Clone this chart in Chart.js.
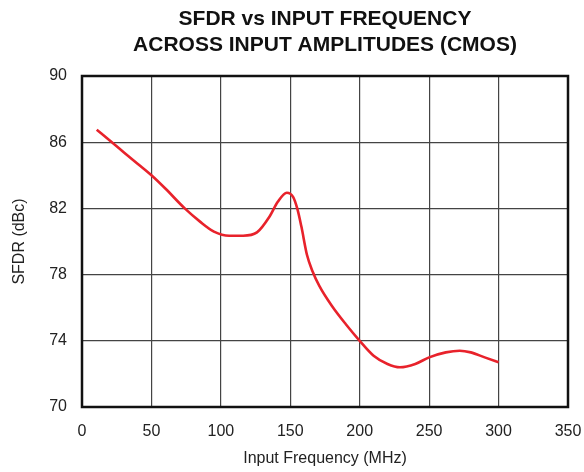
<!DOCTYPE html>
<html>
<head>
<meta charset="utf-8">
<script src="https://cdn.jsdelivr.net/npm/chart.js@4"></script>
<style>
  html, body { margin: 0; padding: 0; background: #fff; }
  #wrap { width: 584px; height: 472px; }
</style>
</head>
<body>
<div id="wrap"><canvas id="sfdrChart" width="584" height="472"></canvas></div>
<script>
'use strict';
// =============== data ===============
const freqMHz = [10.6, 20, 30, 40, 50, 60, 74, 85, 95, 106, 116, 126, 135, 141, 147.5, 152, 155, 158, 162, 166, 171, 180, 190, 200, 210, 220, 229, 240, 250, 262, 272, 280, 290, 300];
const sfdrDbc = [86.75, 86.1, 85.4, 84.7, 84.0, 83.2, 82.0, 81.2, 80.6, 80.35, 80.35, 80.55, 81.5, 82.4, 82.95, 82.7, 82.0, 80.9, 79.2, 78.2, 77.3, 76.1, 75.0, 74.0, 73.1, 72.6, 72.4, 72.6, 73.0, 73.3, 73.4, 73.3, 73.0, 72.7];
const xTicks = [0, 50, 100, 150, 200, 250, 300, 350];
const yTicks = [70, 74, 78, 82, 86, 90];
const titleLines = ['SFDR vs INPUT FREQUENCY', 'ACROSS INPUT AMPLITUDES (CMOS)'];

const points = freqMHz.map((f, i) => ({ x: f, y: sfdrDbc[i] }));

// =============== frame around plot ===============
const frame = {
    id: 'frame',
    afterDatasetsDraw(chart) {
        const a = chart.chartArea;
        const ctx = chart.ctx;
        ctx.save();
        ctx.strokeStyle = '#111';
        ctx.lineWidth = 2.5;
        ctx.strokeRect(a.left, a.top, a.right - a.left, a.bottom - a.top);
        ctx.restore();
    }
};

const font = "'Liberation Sans', Arial, Helvetica, sans-serif";

let ctx = document.getElementById('sfdrChart').getContext('2d');

let sfdrChart = new Chart(ctx, {
    type: 'line',
    data: {
        datasets: [{
            label: 'SFDR',
            data: points,
            borderColor: '#e8222b',
            borderWidth: 2.6,
            pointRadius: 0,
            cubicInterpolationMode: 'monotone',
            fill: false
        }]
    },
    options: {
        responsive: false,
        animation: false,
        layout: { padding: { left: 0, right: 16, top: 0, bottom: 0 } },
        plugins: {
            legend: { display: false },
            tooltip: { enabled: false },
            title: {
                display: true,
                text: titleLines,
                fullSize: false,
                color: '#111',
                font: { family: font, size: 21, weight: 'bold', lineHeight: 1.25 },
                padding: { top: 6, bottom: 17.5 }
            }
        },
        scales: {
            x: {
                type: 'linear',
                min: 0,
                max: 350,
                afterBuildTicks: (s) => { s.ticks = xTicks.map(v => ({ value: v })); },
                afterFit: (s) => { s.height = 65; s.paddingRight = 0; s.paddingLeft = 0; },
                ticks: { color: '#222', font: { family: font, size: 16 }, padding: 15, maxRotation: 0 },
                grid: { color: '#444', lineWidth: 1.2, drawTicks: false },
                border: { display: false },
                title: { display: true, text: 'Input Frequency (MHz)', color: '#222', font: { family: font, size: 16 }, padding: { top: 4, bottom: 4 } }
            },
            y: {
                min: 70,
                max: 90,
                afterBuildTicks: (s) => { s.ticks = yTicks.map(v => ({ value: v })); },
                afterFit: (s) => { s.width = 82; },
                ticks: { color: '#222', font: { family: font, size: 16 }, padding: 15 },
                grid: { color: '#444', lineWidth: 1.2, drawTicks: false },
                border: { display: false },
                title: { display: true, text: 'SFDR (dBc)', color: '#222', font: { family: font, size: 16 }, padding: { top: 10, bottom: 8 } }
            }
        }
    },
    plugins: [frame]
});
</script>
</body>
</html>
